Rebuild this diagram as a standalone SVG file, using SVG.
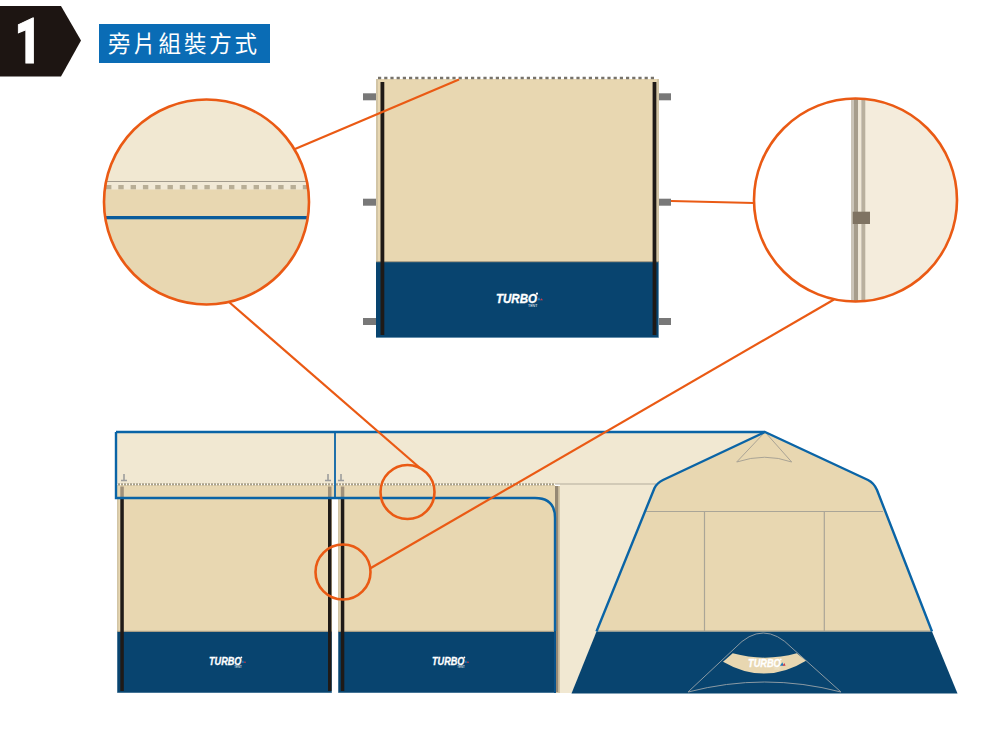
<svg xmlns="http://www.w3.org/2000/svg" width="1000" height="741" viewBox="0 0 1000 741">
<style>
.beige{fill:#e8d7b1}.light{fill:#f1e8d2}.navy{fill:#08446f}.strap{fill:#1f1a17}.peg{fill:#787878}.tan{fill:#a0917a}
.edge{fill:#d2c5a6}
.blue{fill:none;stroke:#0a64a6;stroke-width:2.4}
.thin{fill:none;stroke:#a9a395;stroke-width:1}
.thinnavy{fill:none;stroke:#8b9aa3;stroke-width:1}
.lens{fill:none;stroke:#ea5a14;stroke-width:2.6}
.lead{fill:none;stroke:#ea5a14;stroke-width:2.2}
.tick{fill:none;stroke:#9d9d9d;stroke-width:1.6}
.logo{font-family:"Liberation Sans",Arial,sans-serif;font-weight:700;font-style:italic;font-size:13px;fill:#fff;stroke:#fff;stroke-width:.35}
.tent{font-family:"Liberation Sans",Arial,sans-serif;font-size:3.6px;fill:#fff}
</style>
<defs>
<clipPath id="clipL"><circle cx="206.5" cy="202" r="102.5"/></clipPath>
<clipPath id="clipR"><circle cx="855.5" cy="200" r="101.5"/></clipPath>
</defs>
<rect width="1000" height="741" fill="#fff"/>

<g id="badge">
<polygon points="0,6 61,6 81,40.5 61,76.5 0,76.5" fill="#1d1512"/>
<text transform="translate(28,63) scale(.74,1)" x="0" y="0" text-anchor="middle" font-family="Roboto,'Open Sans',sans-serif" font-weight="900" font-size="63" fill="#fff" stroke="#fff" stroke-width="1">1</text>
</g>

<g id="title">
<rect x="99" y="24" width="171" height="39" fill="#0a6cb5"/>
<text x="108" y="52" font-family="'Noto Sans CJK TC','Noto Sans CJK SC',sans-serif" font-weight="400" font-size="22.5" letter-spacing="2.8" fill="#fff">旁片組裝方式</text>
</g>

<g id="top-panel">
<rect class="peg" x="363" y="93.3" width="13" height="7"/>
<rect class="peg" x="363" y="198.7" width="13" height="7"/>
<rect class="peg" x="363" y="318" width="13" height="7"/>
<rect class="peg" x="659" y="93.3" width="12" height="7"/>
<rect class="peg" x="659" y="198.7" width="12" height="7"/>
<rect class="peg" x="659" y="318" width="12" height="7"/>
<rect class="edge" x="376" y="79" width="283" height="183"/>
<rect class="beige" x="378" y="79" width="279" height="183"/>
<line x1="378" y1="78" x2="657" y2="78" stroke="#77736b" stroke-width="2.4" stroke-dasharray="3.2 3"/>
<rect x="376" y="262" width="283" height="76" fill="#8fb0c8"/>
<rect class="navy" x="376" y="262" width="282.3" height="75.3"/>
<rect x="376" y="261" width="283" height="1.2" fill="#a89f88"/>
<rect class="strap" x="380.5" y="82" width="3.8" height="253"/>
<rect class="strap" x="652.6" y="82" width="3.8" height="253"/>
<g id="logo-top" transform="translate(496,303.3)">
<text class="logo" x="0" y="0" textLength="41" lengthAdjust="spacingAndGlyphs">TURBO</text>
<circle cx="41" cy="-9.6" r="1.1" fill="#fff"/>
<polygon points="41,-3 44.5,-3 43,-6" fill="#1c7cc0"/>
<polygon points="44,-3 47,-3 45.5,-5" fill="#c9394a"/>
<text class="tent" x="32" y="4">TENT</text>
</g>
</g>

<g id="detail-left" clip-path="url(#clipL)">
<rect class="light" x="100" y="95" width="215" height="87"/>
<rect x="100" y="181" width="215" height="1.2" fill="#a39c8e"/>
<rect x="100" y="182" width="215" height="8" fill="#f1e9d6"/>
<line x1="100" y1="187.2" x2="315" y2="187.2" stroke="#b8ae96" stroke-width="4.4" stroke-dasharray="5.4 6.9" stroke-dashoffset="-6"/>
<rect class="beige" x="100" y="189.5" width="215" height="120"/>
<rect x="100" y="216" width="215" height="3.3" fill="#0a5c9c"/>
</g>

<g id="detail-right" clip-path="url(#clipR)">
<rect x="754" y="98" width="97" height="205" fill="#fff"/>
<rect x="865" y="98" width="95" height="205" fill="#f4ecdc"/>
<rect x="851" y="98" width="3" height="205" fill="#cbc5b9"/>
<rect x="854" y="98" width="4.3" height="205" fill="#a69d8c"/>
<rect x="858.3" y="98" width="3" height="205" fill="#f0e8d6"/>
<rect x="861.3" y="98" width="4" height="205" fill="#b9b09e"/>
<rect x="852.7" y="211.7" width="17.3" height="12.3" fill="#7f7362"/>
</g>

<g id="bottom-roof">
<rect class="light" x="116" y="432" width="219" height="52"/>
<rect class="beige" x="116" y="485" width="219" height="13"/>
<polygon class="light" points="335,432 765,432 656,484 560,484 560,693 572,693 656,484 335,484"/>
<rect class="beige" x="335" y="485" width="220" height="13"/>
</g>

<g id="panel-1">
<rect class="beige" x="117" y="498" width="215" height="133.5"/>
<rect class="edge" x="117" y="498" width="1.6" height="133.5"/>
<rect x="117" y="631" width="215" height="62" fill="#7fa3bd"/>
<rect class="navy" x="117.5" y="631.5" width="214" height="61"/>
<rect x="117" y="630.8" width="215" height="1.2" fill="#a89f88"/>
<rect class="tan" x="120.3" y="486.5" width="3.5" height="12"/>
<rect class="strap" x="120.3" y="498.5" width="3.5" height="192.5"/>
<rect class="tan" x="328" y="486.5" width="3.5" height="12"/>
<rect class="strap" x="328" y="498.5" width="3.5" height="192.5"/>
<g id="logo-1" transform="translate(209,665) scale(.79)">
<text class="logo" x="0" y="0" textLength="41" lengthAdjust="spacingAndGlyphs">TURBO</text>
<circle cx="41" cy="-9.6" r="1.1" fill="#fff"/>
<polygon points="41,-3 44.5,-3 43,-6" fill="#1c7cc0"/>
<polygon points="44,-3 47,-3 45.5,-5" fill="#c9394a"/>
<text class="tent" x="32" y="4">TENT</text>
</g>
</g>

<g id="panel-2">
<rect class="beige" x="338" y="498" width="217" height="133.5"/>
<rect class="edge" x="338" y="498" width="1.6" height="133.5"/>
<rect x="338" y="631" width="217" height="62" fill="#7fa3bd"/>
<rect class="navy" x="338.5" y="631.5" width="217" height="61"/>
<rect x="338" y="630.8" width="217" height="1.2" fill="#a89f88"/>
<rect class="tan" x="340.8" y="486.5" width="3.5" height="12"/>
<rect class="strap" x="340.8" y="498.5" width="3.5" height="192.5"/>
<rect class="edge" x="555" y="486" width="5" height="207"/>
<rect x="555" y="486" width="3.2" height="206" fill="#958873"/>
<g id="logo-2" transform="translate(432,665) scale(.79)">
<text class="logo" x="0" y="0" textLength="41" lengthAdjust="spacingAndGlyphs">TURBO</text>
<circle cx="41" cy="-9.6" r="1.1" fill="#fff"/>
<polygon points="41,-3 44.5,-3 43,-6" fill="#1c7cc0"/>
<polygon points="44,-3 47,-3 45.5,-5" fill="#c9394a"/>
<text class="tent" x="32" y="4">TENT</text>
</g>
</g>

<g id="roof-details">
<line x1="118" y1="484.3" x2="333" y2="484.3" stroke="#a9a18c" stroke-width="2.2" stroke-dasharray="2 1"/>
<line x1="336" y1="484.3" x2="555" y2="484.3" stroke="#a9a18c" stroke-width="2.2" stroke-dasharray="2 1"/>
<line x1="555" y1="484" x2="656" y2="484" stroke="#b3ac9c" stroke-width="1"/>
<path class="tick" d="M124,474V480M121,480.5H127"/>
<path class="tick" d="M328,474V480M325,480.5H331"/>
<path class="tick" d="M341,474V480M338,480.5H344"/>
<path class="blue" d="M116,432H765M116,432V498H535Q555,498 555,518V631"/>
<path d="M555,631V693" fill="none" stroke="#0a5288" stroke-width="2"/>
<line x1="335" y1="432" x2="335" y2="498" stroke="#0a64a6" stroke-width="1.8"/>
</g>

<g id="tent-front">
<path class="beige" d="M765,432L663,480Q657,483 654.5,488L596.5,631.5H932L877,490Q874,483 868,480Z"/>
<path class="navy" d="M596.5,631.5L571.5,693.5H957.5L932,631.5Z"/>
<path d="M645,511.5H883M704.5,511.5V631M824.3,511.5V631" fill="none" stroke="#aaa597" stroke-width="1.2"/>
<line x1="597" y1="631" x2="932" y2="631" stroke="#a89f88" stroke-width="1"/>
<path class="thin" d="M736.7,462L765,432L791.7,462M736.7,462Q765,452.5 791.7,462"/>
<path class="thinnavy" d="M688,692L735,648Q763,618 792,648L841,692M688,692Q765,672 841,692"/>
<path class="beige" d="M723,661.7L732.7,653.3Q765,662 796.7,653.3L806,660.7Q765,686 723,661.7Z"/>
<path class="blue" d="M596.5,631.5L654.5,488Q657,483 663,480L765,432L868,480Q874,483 877,490L932,631.5"/>
<g id="logo-3" transform="translate(748,667) scale(.8)">
<text class="logo" x="0" y="0" textLength="41" lengthAdjust="spacingAndGlyphs">TURBO</text>
<circle cx="41" cy="-9.6" r="1.1" fill="#fff"/>
<polygon points="40,-1.5 44.5,-1.5 43,-6" fill="#1c7cc0"/>
<polygon points="43,-1.5 47,-1.5 45.5,-5" fill="#c9394a"/>
<text class="tent" x="32" y="4" style="fill:#f1e8d2">TENT</text>
</g>
</g>

<g id="connectors">
<line class="lead" x1="295" y1="149" x2="459" y2="79.5"/>
<line class="lead" x1="671" y1="201" x2="754" y2="203"/>
<line class="lead" x1="229" y1="302" x2="420" y2="468"/>
<line class="lead" x1="370" y1="568.5" x2="834" y2="299.5"/>
</g>

<g id="lenses">
<circle class="lens" cx="206.5" cy="202" r="102.5"/>
<circle class="lens" cx="855.5" cy="200" r="101.5"/>
<circle class="lens" cx="407.5" cy="492" r="27"/>
<circle class="lens" cx="343" cy="572" r="27.5"/>
</g>
</svg>
